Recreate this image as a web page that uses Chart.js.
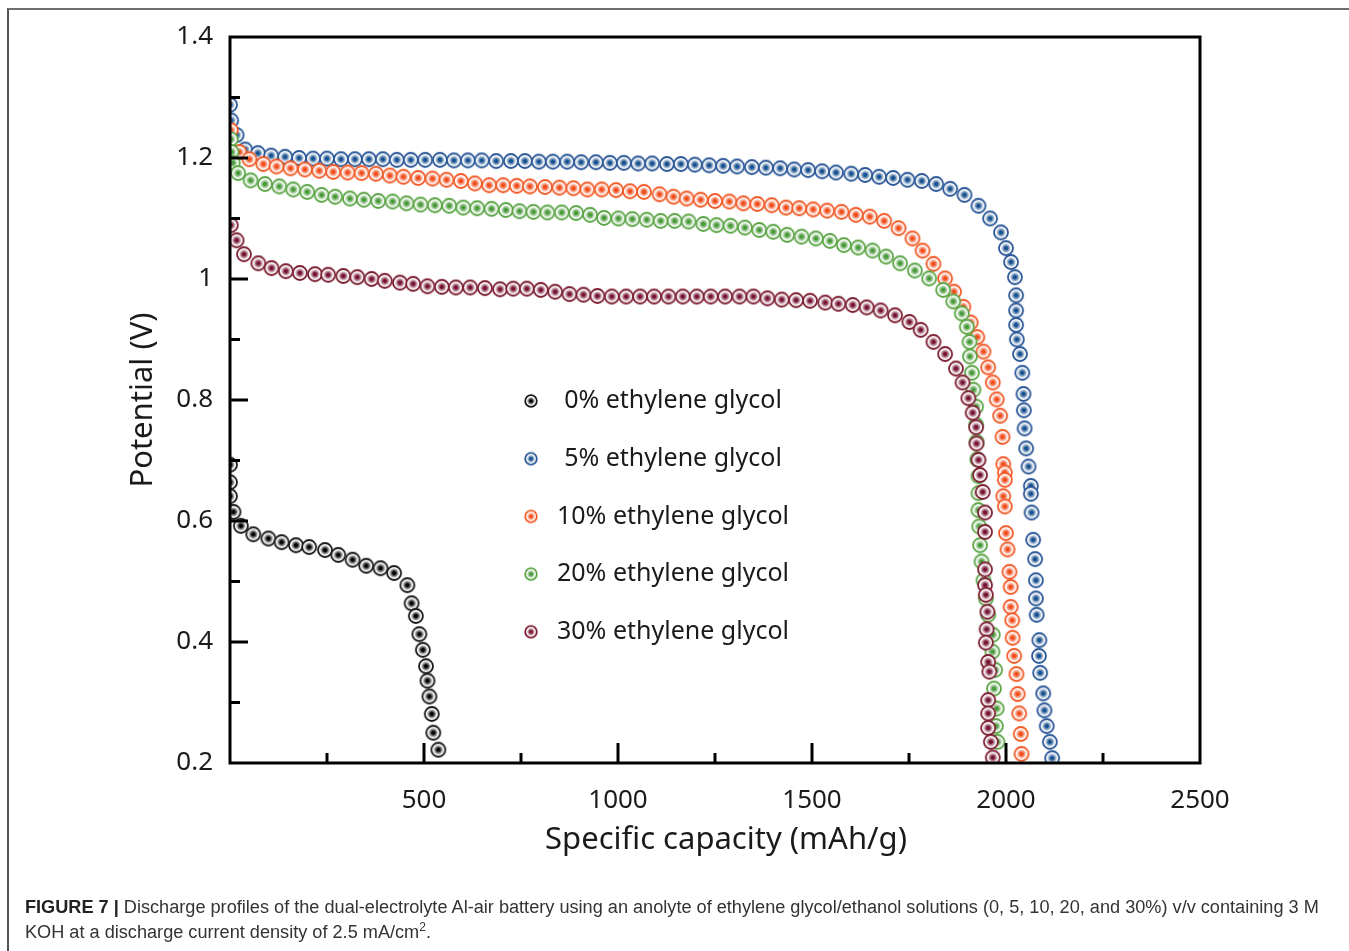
<!DOCTYPE html>
<html>
<head>
<meta charset="utf-8">
<script src="https://cdn.jsdelivr.net/npm/chart.js@4.4.0/dist/chart.umd.min.js"></script>
<style>
  body { margin: 0; background: #fff; }
  #wrap { position: relative; width: 1349px; height: 951px; overflow: hidden; }
  #frame { position: absolute; left: 7px; top: 8px; width: 1400px; height: 1000px;
           border-top: 2px solid #6e6e6e; border-left: 2px solid #555; }
  canvas { position: absolute; left: 0; top: 0; }
  #cap { position: absolute; left: 25px; top: 895px; font: 18.15px "Liberation Sans", Arial, sans-serif;
         color: #333; line-height: 25px; white-space: nowrap; }
  #cap b { color: #222; }
</style>
</head>
<body>
<div id="wrap">
  <div id="frame"></div>
  <canvas id="dischargeChart" width="1349" height="951"></canvas>
  <div id="cap"><b>FIGURE 7 |</b> Discharge profiles of the dual-electrolyte Al-air battery using an anolyte of ethylene glycol/ethanol solutions (0, 5, 10, 20, and 30%) v/v containing 3 M<br>KOH at a discharge current density of 2.5 mA/cm<sup style="font-size:12px;line-height:0">2</sup>.</div>
</div>
<script>
// series labels
const labels = ['0% ethylene glycol', '5% ethylene glycol', '10% ethylene glycol', '20% ethylene glycol', '30% ethylene glycol'];

// 0 %
const x0 = [0, 0, 0, 9, 28, 60, 99, 133, 170, 204, 245, 279, 316, 351, 388, 423, 457, 468, 479, 488, 497, 505, 509, 514, 520, 524, 537];
const y0 = [0.693, 0.664, 0.641, 0.615, 0.592, 0.578, 0.571, 0.565, 0.560, 0.557, 0.552, 0.544, 0.536, 0.526, 0.522, 0.514, 0.494, 0.464, 0.443, 0.413, 0.387, 0.360, 0.336, 0.310, 0.281, 0.250, 0.222];

// 5 %
const x5 = [0, 3, 17, 39, 72, 106, 142, 178, 214, 250, 286, 322, 358, 394, 430, 466, 503, 541, 577, 613, 649, 686, 724, 760,
  796, 832, 869, 905, 943, 979, 1015, 1052, 1088, 1126, 1162, 1198, 1235, 1271, 1307, 1345, 1381, 1418, 1454, 1490, 1526,
  1562, 1601, 1637, 1673, 1709, 1746, 1783, 1820, 1856, 1893, 1929, 1959, 1987, 2000, 2013, 2023, 2026, 2026, 2026, 2028,
  2036, 2042, 2045, 2046, 2048, 2052, 2058, 2064, 2064, 2066, 2070, 2075, 2077, 2077, 2079, 2086, 2085, 2088, 2096, 2099,
  2105, 2113, 2119];
const y5 = [1.288, 1.262, 1.238, 1.214, 1.208, 1.204, 1.202, 1.200, 1.199, 1.199, 1.198, 1.198, 1.198, 1.198, 1.197, 1.197,
  1.197, 1.197, 1.196, 1.196, 1.196, 1.195, 1.195, 1.195, 1.194, 1.194, 1.194, 1.193, 1.193, 1.192, 1.192, 1.191, 1.191,
  1.190, 1.190, 1.189, 1.188, 1.187, 1.186, 1.185, 1.184, 1.183, 1.181, 1.180, 1.178, 1.176, 1.174, 1.172, 1.169, 1.167,
  1.164, 1.162, 1.157, 1.149, 1.139, 1.121, 1.100, 1.077, 1.051, 1.028, 1.003, 0.973, 0.948, 0.924, 0.900, 0.876, 0.845,
  0.810, 0.783, 0.753, 0.720, 0.690, 0.658, 0.645, 0.614, 0.569, 0.537, 0.502, 0.472, 0.445, 0.403, 0.377, 0.349, 0.315,
  0.287, 0.261, 0.235, 0.208];

// 10 %
const x10 = [2, 24, 50, 86, 120, 156, 193, 230, 266, 303, 339, 376, 412, 447, 485, 522, 558, 595, 631, 668, 704, 739, 773,
  812, 849, 885, 921, 958, 995, 1031, 1067, 1107, 1143, 1177, 1213, 1250, 1287, 1323, 1359, 1396, 1433, 1467, 1503, 1539,
  1576, 1613, 1649, 1686, 1723, 1759, 1785, 1813, 1843, 1866, 1890, 1909, 1926, 1942, 1954, 1966, 1976, 1985, 1991, 1993,
  1997, 1997, 1993, 1997, 2000, 2004, 2009, 2012, 2012, 2016, 2017, 2021, 2027, 2030, 2034, 2038, 2040];
const y10 = [1.246, 1.210, 1.198, 1.190, 1.186, 1.183, 1.181, 1.179, 1.177, 1.176, 1.175, 1.174, 1.171, 1.169, 1.167, 1.166,
  1.164, 1.162, 1.158, 1.155, 1.155, 1.154, 1.153, 1.152, 1.151, 1.150, 1.148, 1.148, 1.147, 1.145, 1.144, 1.140, 1.136,
  1.133, 1.131, 1.129, 1.128, 1.125, 1.124, 1.122, 1.118, 1.117, 1.115, 1.113, 1.111, 1.106, 1.103, 1.096, 1.084, 1.067,
  1.047, 1.025, 1.001, 0.979, 0.954, 0.928, 0.904, 0.880, 0.854, 0.829, 0.801, 0.774, 0.739, 0.694, 0.680, 0.668, 0.641,
  0.624, 0.580, 0.553, 0.516, 0.491, 0.458, 0.436, 0.407, 0.377, 0.347, 0.314, 0.282, 0.248, 0.215];

// 20 %
const x20 = [2, 4, 7, 21, 53, 90, 127, 163, 199, 236, 271, 309, 345, 382, 419, 455, 491, 528, 565, 601, 637, 674, 711, 746,
  782, 818, 855, 892, 928, 964, 1001, 1037, 1074, 1110, 1146, 1182, 1220, 1254, 1290, 1327, 1364, 1400, 1436, 1473, 1510,
  1546, 1582, 1619, 1656, 1691, 1727, 1765, 1802, 1838, 1864, 1886, 1899, 1906, 1907, 1912, 1916, 1923, 1923, 1924, 1926,
  1929, 1929, 1929, 1931, 1933, 1937, 1942, 1948, 1954, 1966, 1965, 1972, 1969, 1976, 1974, 1978];
const y20 = [1.231, 1.210, 1.192, 1.175, 1.163, 1.157, 1.153, 1.148, 1.144, 1.139, 1.136, 1.133, 1.131, 1.129, 1.128, 1.125,
  1.123, 1.122, 1.121, 1.118, 1.117, 1.116, 1.114, 1.112, 1.111, 1.110, 1.110, 1.109, 1.106, 1.101, 1.100, 1.099, 1.098,
  1.096, 1.096, 1.095, 1.091, 1.089, 1.088, 1.085, 1.081, 1.078, 1.073, 1.070, 1.067, 1.063, 1.056, 1.052, 1.047, 1.037,
  1.026, 1.014, 1.001, 0.982, 0.963, 0.943, 0.921, 0.896, 0.872, 0.845, 0.817, 0.789, 0.759, 0.731, 0.702, 0.674, 0.646,
  0.618, 0.591, 0.560, 0.533, 0.502, 0.472, 0.445, 0.412, 0.384, 0.354, 0.323, 0.290, 0.261, 0.235];

// 30 %
const x30 = [2, 17, 36, 73, 107, 144, 180, 219, 253, 292, 328, 365, 399, 438, 472, 509, 546, 582, 619, 657, 696, 730, 765,
  801, 838, 875, 911, 947, 984, 1021, 1057, 1093, 1130, 1167, 1203, 1239, 1276, 1313, 1349, 1385, 1422, 1459, 1495, 1534,
  1568, 1605, 1641, 1677, 1714, 1751, 1780, 1813, 1843, 1871, 1888, 1903, 1914, 1923, 1924, 1929, 1933, 1940, 1946, 1946,
  1946, 1946, 1948, 1952, 1950, 1948, 1954, 1957, 1954, 1954, 1954, 1961, 1966];
const y30 = [1.089, 1.064, 1.041, 1.026, 1.018, 1.013, 1.010, 1.008, 1.007, 1.005, 1.003, 1.000, 0.997, 0.994, 0.992, 0.988,
  0.987, 0.986, 0.986, 0.985, 0.983, 0.984, 0.984, 0.982, 0.979, 0.975, 0.974, 0.972, 0.971, 0.971, 0.971, 0.971, 0.971,
  0.971, 0.971, 0.971, 0.971, 0.971, 0.971, 0.968, 0.966, 0.965, 0.964, 0.961, 0.959, 0.957, 0.953, 0.948, 0.940, 0.929,
  0.916, 0.896, 0.876, 0.852, 0.829, 0.803, 0.779, 0.755, 0.728, 0.701, 0.676, 0.648, 0.614, 0.582, 0.520, 0.494, 0.478,
  0.450, 0.421, 0.399, 0.367, 0.351, 0.304, 0.282, 0.258, 0.235, 0.209];

// axis ticks
const xMajorTicks = [500, 1000, 1500, 2000];
const xMinorTicks = [250, 750, 1250, 1750, 2250];
const yMajorTicks = [0.4, 0.6, 0.8, 1.0, 1.2];
const yMinorTicks = [0.3, 0.5, 0.7, 0.9, 1.1, 1.3];

const xTitle = 'Specific capacity (mAh/g)';
const yTitle = 'Potential (V)';

const edgeColors = ['#1a1a1a', '#2b5797', '#f25a27', '#5ba546', '#7c1f33'];
const coreColors = ['#000000', '#154f8e', '#f04a18', '#459836', '#741030'];
const FONT = '"Noto Sans", "Open Sans", sans-serif';

// circle marker with a soft radial centre
function makeMarker(edge, core, r) {
  const s = Math.ceil(r * 2 + 4);
  const c = document.createElement('canvas');
  c.width = s; c.height = s;
  const g = c.getContext('2d');
  const m = s / 2;
  const grad = g.createRadialGradient(m, m, 0, m, m, r);
  grad.addColorStop(0, core);
  grad.addColorStop(0.2, core);
  grad.addColorStop(0.72, '#ffffff');
  grad.addColorStop(1, '#ffffff');
  g.beginPath();
  g.arc(m, m, r, 0, Math.PI * 2);
  g.fillStyle = grad;
  g.fill();
  g.lineWidth = 1.8;
  g.strokeStyle = edge;
  g.stroke();
  return c;
}

const markers = edgeColors.map((e, i) => makeMarker(e, coreColors[i], 7));
const legendMarkers = edgeColors.map((e, i) => makeMarker(e, coreColors[i], 5.8));

const xs = [x0, x5, x10, x20, x30];
const ys = [y0, y5, y10, y20, y30];

const datasets = labels.map((lab, i) => ({
  label: lab,
  data: xs[i].map((v, k) => ({ x: v, y: ys[i][k] })),
  pointStyle: markers[i],
  showLine: false,
  order: 5 - i
}));

// inward ticks, black frame, x title and the in-plot legend
const frameAndLegend = {
  id: 'frameAndLegend',
  afterDatasetsDraw(chart) {
    const { ctx, chartArea: a, scales: { x, y } } = chart;
    ctx.save();
    ctx.strokeStyle = '#000';
    ctx.lineWidth = 3;
    ctx.strokeRect(a.left, a.top, a.right - a.left, a.bottom - a.top);
    ctx.beginPath();
    xMajorTicks.forEach(v => { const p = x.getPixelForValue(v); ctx.moveTo(p, a.bottom); ctx.lineTo(p, a.bottom - 20); });
    xMinorTicks.forEach(v => { const p = x.getPixelForValue(v); ctx.moveTo(p, a.bottom); ctx.lineTo(p, a.bottom - 10); });
    yMajorTicks.forEach(v => { const p = y.getPixelForValue(v); ctx.moveTo(a.left, p); ctx.lineTo(a.left + 18, p); });
    yMinorTicks.forEach(v => { const p = y.getPixelForValue(v); ctx.moveTo(a.left, p); ctx.lineTo(a.left + 10, p); });
    ctx.stroke();

    ctx.fillStyle = '#1a1a1a';
    ctx.textAlign = 'center';
    ctx.textBaseline = 'middle';

    // x axis title, sits a little right of the plot centre in the original
    ctx.font = '31px ' + FONT;
    ctx.fillText(xTitle, 726, 840);

    // legend
    ctx.font = '25px ' + FONT;
    labels.forEach((lab, i) => {
      const ly = 401 + i * 57.7;
      const mk = legendMarkers[i];
      ctx.drawImage(mk, 531 - mk.width / 2, ly - mk.height / 2);
      ctx.fillText(lab, 673, ly);
    });
    ctx.restore();
  }
};

new Chart(document.getElementById('dischargeChart'), {
  type: 'scatter',
  data: { datasets },
  plugins: [frameAndLegend],
  options: {
    responsive: false,
    animation: false,
    layout: { padding: { left: 0, top: 37, right: 149, bottom: 0 } },
    plugins: { legend: { display: false }, tooltip: { enabled: false } },
    scales: {
      x: {
        type: 'linear', min: 0, max: 2500,
        grid: { display: false, drawTicks: false },
        border: { display: false },
        ticks: {
          stepSize: 500, maxRotation: 0, padding: 22, color: '#1a1a1a',
          font: { size: 26, family: FONT },
          callback: v => (v === 0 ? '' : v)
        },
        afterFit: s => { s.height = 188; }
      },
      y: {
        min: 0.2, max: 1.4,
        grid: { display: false, drawTicks: false },
        border: { display: false },
        ticks: {
          stepSize: 0.2, padding: 17, color: '#1a1a1a',
          font: { size: 26, family: FONT },
          callback: v => String(+v.toFixed(1))
        },
        title: {
          display: true, text: yTitle, color: '#1a1a1a',
          font: { size: 31, family: FONT }, padding: { top: 125, bottom: 0 }
        },
        afterFit: s => { s.width = 230; }
      }
    }
  }
});
</script>
</body>
</html>
